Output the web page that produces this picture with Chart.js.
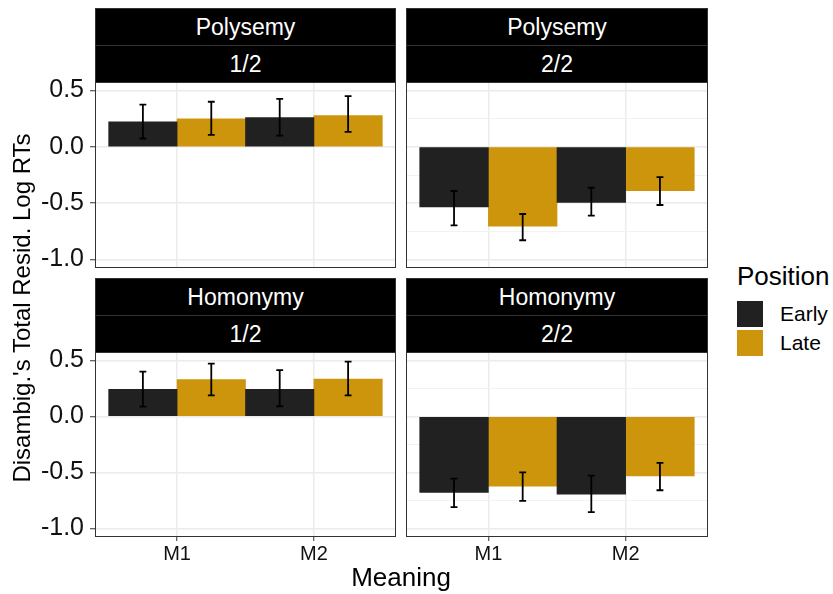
<!DOCTYPE html>
<html>
<head>
<meta charset="utf-8">
<script src="https://cdn.jsdelivr.net/npm/chart.js@4"></script>
<style>
  html, body { margin: 0; padding: 0; background: #fff; }
  #fig { position: relative; width: 833px; height: 594px; overflow: hidden;
         font-family: "Liberation Sans", Arial, Helvetica, sans-serif; color: #000; }
  #fig canvas { position: absolute; }
  .strip { position: absolute; box-sizing: border-box; background: #000; border: 1px solid #333;
           color: #fff; font-size: 23px; text-align: center; z-index: 2; }
  .txt { position: absolute; white-space: nowrap; }
  .key { position: absolute; width: 26px; height: 26px; }
</style>
</head>
<body>
<div id="fig"></div>
<script>
// ---- data -------------------------------------------------------------
const meanings = ['M1', 'M2'];
const positions = ['Early', 'Late'];
const panelTypes = ['Polysemy', 'Polysemy', 'Homonymy', 'Homonymy'];
const panelHalves = ['1/2', '2/2', '1/2', '2/2'];

// mean residual log RT per panel, one value per meaning (M1, M2)
const earlyMean = [[0.221, 0.260], [-0.534, -0.493], [0.242, 0.242], [-0.678, -0.693]];
const earlyLow  = [[0.074, 0.100], [-0.696, -0.611], [0.088, 0.091], [-0.808, -0.853]];
const earlyHigh = [[0.375, 0.425], [-0.392, -0.363], [0.400, 0.413], [-0.555, -0.528]];

const lateMean = [[0.248, 0.278], [-0.705, -0.389], [0.330, 0.333], [-0.622, -0.531]];
const lateLow  = [[0.106, 0.133], [-0.829, -0.516], [0.189, 0.189], [-0.752, -0.658]];
const lateHigh = [[0.400, 0.449], [-0.596, -0.268], [0.472, 0.489], [-0.499, -0.413]];

const yMajorTicks = [-1.0, -0.5, 0.0, 0.5];
const yMinorTicks = [-0.75, -0.25, 0.25];

// ---- appearance -------------------------------------------------------
const FONT = '"Liberation Sans", Arial, Helvetica, sans-serif';
const colours = { Early: '#212121', Late: '#CD950C' };
const yLimits = { min: -1.075, max: 0.575 };
const xLimits = { min: 0.4, max: 2.6 };
const capWidth = 0.05;           // error-bar cap width in x units

const cols = [{ x: 95, w: 301, axisW: 95 }, { x: 406, w: 302, axisW: 0 }];
const rows = [{ y: 82, h: 186, axisH: 0, stripTop: 8 },
              { y: 352, h: 185, axisH: 42, stripTop: 278 }];
const stripH = 37;

const fig = document.getElementById('fig');

// error bars drawn from each dataset's low/high arrays
const errorBars = {
  id: 'errorBars',
  afterDatasetsDraw(chart) {
    const { ctx } = chart;
    const xs = chart.scales.x, ys = chart.scales.y;
    const half = xs.getPixelForValue(1 + capWidth / 2) - xs.getPixelForValue(1);
    ctx.save();
    ctx.strokeStyle = '#000';
    ctx.lineWidth = 1.8;
    chart.data.datasets.forEach((ds, i) => {
      chart.getDatasetMeta(i).data.forEach((bar, j) => {
        const yl = ys.getPixelForValue(ds.errLow[j]);
        const yh = ys.getPixelForValue(ds.errHigh[j]);
        const bx = bar.x;
        ctx.beginPath();
        ctx.moveTo(bx, yl); ctx.lineTo(bx, yh);
        ctx.moveTo(bx - half, yl); ctx.lineTo(bx + half, yl);
        ctx.moveTo(bx - half, yh); ctx.lineTo(bx + half, yh);
        ctx.stroke();
      });
    });
    ctx.restore();
  }
};

// panel frame on top of everything
const panelBorder = {
  id: 'panelBorder',
  afterDraw(chart) {
    const a = chart.chartArea, ctx = chart.ctx;
    ctx.save();
    ctx.strokeStyle = '#333';
    ctx.lineWidth = 1;
    ctx.strokeRect(Math.round(a.left) + 0.5, Math.round(a.top) + 0.5,
                   Math.round(a.width) - 1, Math.round(a.height) - 1);
    ctx.restore();
  }
};

function addDiv(cls, text, style) {
  const d = document.createElement('div');
  d.className = cls;
  d.textContent = text;
  Object.assign(d.style, style);
  fig.appendChild(d);
  return d;
}

for (let p = 0; p < 4; p++) {
  const r = Math.floor(p / 2), c = p % 2;
  const row = rows[r], col = cols[c];
  const showY = c === 0, showX = r === 1;

  // strips
  [panelTypes[p], panelHalves[p]].forEach((label, k) => {
    addDiv('strip', label, {
      left: col.x + 'px', width: col.w + 'px',
      top: (row.stripTop + k * stripH) + 'px', height: (stripH + 1) + 'px',
      lineHeight: (stripH - 1) + 'px'
    });
  });

  // canvas
  const padL = c === 0 ? 0 : 6, padR = 6, padT = 16, padB = 6;
  const cv = document.createElement('canvas');
  const cw = padL + col.axisW + col.w + padR;
  const ch = padT + row.h + row.axisH + padB;
  cv.width = cw; cv.height = ch;
  cv.style.left = (col.x - col.axisW - padL) + 'px';
  cv.style.top = (row.y - padT) + 'px';
  cv.style.width = cw + 'px'; cv.style.height = ch + 'px';
  fig.appendChild(cv);

  const toPoints = arr => arr.map((v, i) => ({ x: i + 1, y: v }));

  new Chart(cv, {
    type: 'bar',
    data: {
      datasets: [
        { label: positions[0], data: toPoints(earlyMean[p]), errLow: earlyLow[p], errHigh: earlyHigh[p],
          backgroundColor: colours.Early, borderWidth: 0 },
        { label: positions[1], data: toPoints(lateMean[p]), errLow: lateLow[p], errHigh: lateHigh[p],
          backgroundColor: colours.Late, borderWidth: 0 }
      ]
    },
    options: {
      responsive: false,
      animation: false,
      devicePixelRatio: 1,
      layout: { padding: { left: padL, right: padR, top: padT, bottom: padB } },
      categoryPercentage: 1.0,
      barPercentage: 1.0,
      plugins: { legend: { display: false }, tooltip: { enabled: false } },
      scales: {
        x: {
          type: 'linear',
          offset: false,
          min: xLimits.min, max: xLimits.max,
          afterBuildTicks: s => { s.ticks = meanings.map((_, i) => ({ value: i + 1 })); },
          afterFit: s => { s.height = row.axisH; s.paddingLeft = 0; s.paddingRight = 0; },
          ticks: {
            display: showX, autoSkip: false, maxRotation: 0, padding: 1,
            color: '#111', font: { family: FONT, size: 20 },
            callback: v => meanings[v - 1]
          },
          grid: { offset: false, color: '#ebebeb', lineWidth: 1.5, drawTicks: showX, tickLength: 4,
                  tickColor: '#333', tickWidth: 1 },
          border: { display: false }
        },
        y: {
          type: 'linear',
          min: yLimits.min, max: yLimits.max,
          afterBuildTicks: s => {
            s.ticks = yMajorTicks.concat(yMinorTicks).sort((a, b) => a - b).map(v => ({ value: v }));
          },
          afterFit: s => { s.width = col.axisW; s.paddingTop = 0; s.paddingBottom = 0; },
          ticks: {
            display: showY, padding: 6, color: '#111', font: { family: FONT, size: 25 },
            callback: v => yMajorTicks.includes(v) ? v.toFixed(1) : ''
          },
          grid: {
            color: ctx => yMajorTicks.includes(ctx.tick.value) ? '#ebebeb' : '#f2f2f2',
            lineWidth: ctx => yMajorTicks.includes(ctx.tick.value) ? 1.5 : 1,
            drawTicks: showY, tickLength: 5,
            tickColor: ctx => yMajorTicks.includes(ctx.tick.value) ? '#333' : 'rgba(0,0,0,0)',
            tickWidth: 1
          },
          border: { display: false }
        }
      }
    },
    plugins: [errorBars, panelBorder]
  });
}

// axis titles
addDiv('txt', "Disambig.'s Total Resid. Log RTs", {
  left: (22 - 250) + 'px', top: (308 - 15) + 'px', width: '500px', height: '30px',
  lineHeight: '30px', textAlign: 'center', fontSize: '24px', transform: 'rotate(-90deg)'
});
addDiv('txt', 'Meaning', {
  left: (401 - 150) + 'px', top: (577 - 15) + 'px', width: '300px', height: '30px',
  lineHeight: '30px', textAlign: 'center', fontSize: '26px'
});

// legend
addDiv('txt', 'Position', { left: '737px', top: (276 - 15) + 'px', height: '30px', lineHeight: '30px', fontSize: '26px' });
positions.forEach((name, i) => {
  const cy = 314 + i * 29;
  addDiv('key', '', { left: '737px', top: (cy - 13) + 'px', background: colours[name] });
  addDiv('txt', name, { left: '780px', top: (cy - 15) + 'px', height: '30px', lineHeight: '30px', fontSize: '21px' });
});
</script>
</body>
</html>
